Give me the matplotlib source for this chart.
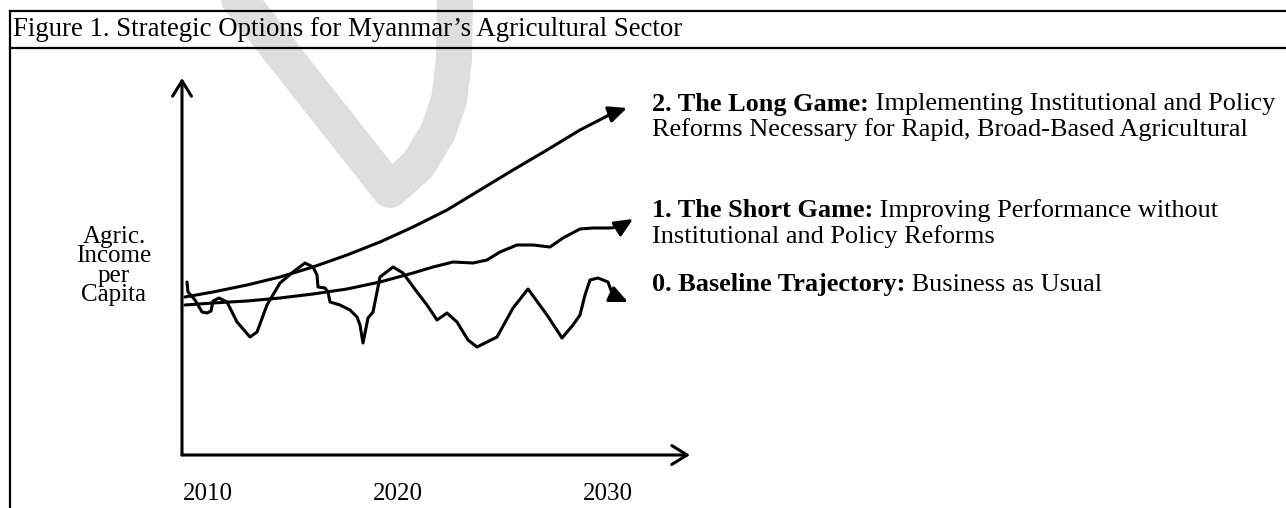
import matplotlib
matplotlib.use("Agg")
import matplotlib.pyplot as plt
from matplotlib.lines import Line2D

plt.rcParams['font.family'] = ['Liberation Serif', 'DejaVu Serif']

# figure size in pixels
W, H = 1286, 508

# --- data (year, income index) ---
long_x = [2008.85, 2010.25, 2011.95, 2013.6, 2015.25, 2016.95, 2018.6, 2020.25,
          2021.95, 2023.6, 2025.25, 2026.95, 2028.6, 2030.25, 2030.95]
long_y = [15.8, 16.3, 17.0, 17.8, 18.8, 20.0, 21.3, 22.8,
          24.5, 26.5, 28.5, 30.5, 32.5, 34.2, 34.7]

short_x = [2008.85, 2010.25, 2011.95, 2013.6, 2015.25, 2016.95, 2018.6, 2020.25,
           2021.25, 2022.25, 2023.25, 2023.95, 2024.6, 2025.45, 2026.25, 2027.1,
           2027.75, 2028.6, 2029.25, 2030.1, 2030.6, 2031.25]
short_y = [15.0, 15.2, 15.4, 15.7, 16.1, 16.6, 17.3, 18.2,
           18.8, 19.3, 19.2, 19.5, 20.3, 21.0, 21.0, 20.8,
           21.7, 22.6, 22.7, 22.7, 22.8, 23.6]

base_x = [2008.95, 2009.0, 2009.35, 2009.7, 2009.95, 2010.15, 2010.25, 2010.55,
          2010.95, 2011.45, 2012.1, 2012.45, 2012.95, 2013.6, 2014.25, 2014.85,
          2015.25, 2015.45, 2015.5, 2015.85, 2016.0, 2016.1, 2016.6, 2017.1,
          2017.45, 2017.6, 2017.75, 2018.0, 2018.25, 2018.6, 2019.25, 2019.75,
          2020.45, 2020.95, 2021.45, 2021.95, 2022.45, 2023.0, 2023.45, 2024.45,
          2025.25, 2026.0, 2026.95, 2027.7, 2028.25, 2028.6, 2028.85, 2029.1,
          2029.5, 2030.0, 2030.2, 2030.45, 2031.0]
base_y = [17.3, 16.3, 15.5, 14.3, 14.2, 14.4, 15.4, 15.7,
          15.3, 13.3, 11.8, 12.3, 15.0, 17.2, 18.3, 19.2,
          18.8, 18.0, 16.8, 16.7, 16.3, 15.3, 15.0, 14.5,
          13.8, 13.0, 11.2, 13.7, 14.3, 17.8, 18.8, 18.2,
          16.3, 15.0, 13.5, 14.2, 13.3, 11.5, 10.8, 11.8,
          14.7, 16.6, 14.0, 11.7, 13.0, 14.0, 16.0, 17.5,
          17.7, 17.3, 16.2, 15.8, 15.3]

tick_pos = [2010, 2019.5, 2030]
tick_labels = ['2010', '2020', '2030']

title = 'Figure 1. Strategic Options for Myanmar\u2019s Agricultural Sector'
ylabel = 'Agric.\nIncome\nper\nCapita'
notes = [
    ('2. The Long Game:', ' Implementing Institutional and Policy',
     'Reforms Necessary for Rapid, Broad-Based Agricultural'),
    ('1. The Short Game:', ' Improving Performance without',
     'Institutional and Policy Reforms'),
    ('0. Baseline Trajectory:', ' Business as Usual', None),
]
note_y = [104, 211, 285]   # pixel rows of first lines

FS = 18.9
LW = 2.2

fig = plt.figure(figsize=(W / 100, H / 100), dpi=100)
fig.patch.set_facecolor('white')

def px(x, y):
    return x / W, 1 - y / H

# faint "draft" watermark stroke behind everything
wm_x = [232, 390, 418, 438, 449, 454, 455]
wm_y = [-10, 190, 165, 132, 100, 60, -10]
fig.add_artist(Line2D([v / W for v in wm_x], [1 - v / H for v in wm_y],
                      transform=fig.transFigure, color='#dedede', lw=26,
                      solid_capstyle='round', solid_joinstyle='round', zorder=0))

# frame lines
for xs, ys in [([10, W], [11, 11]), ([10, W], [48, 48]), ([10, 10], [11, H])]:
    fig.add_artist(Line2D([v / W for v in xs], [1 - v / H for v in ys],
                          transform=fig.transFigure, color='black', lw=1.6))

fig.text(*px(13, 30), title, fontsize=19.3, va='center', ha='left')

# axes box: y axis at x=182, x axis at y=455, arrow tips at (182,78) and (690,455)
x0, x1, y0, y1 = 182, 690, 455, 78
ax = fig.add_axes([x0 / W, 1 - y0 / H, (x1 - x0) / W, (y0 - y1) / H])
ax.set_xlim(2008.7, 2034.1)
ax.set_ylim(0, 37.7)
ax.patch.set_visible(False)
for s in ax.spines.values():
    s.set_visible(False)
ax.set_yticks([])
ax.set_xticks(tick_pos, labels=tick_labels)
ax.tick_params(axis='x', length=0, pad=20, labelsize=18)

axis_arrow = dict(arrowstyle='->,head_length=1.1,head_width=0.68', color='black',
                  lw=LW, shrinkA=0, shrinkB=0, mutation_scale=10)
ax.annotate('', xy=(0, 1), xytext=(0, 0), xycoords='axes fraction', arrowprops=axis_arrow)
ax.annotate('', xy=(1, 0), xytext=(0, 0), xycoords='axes fraction', arrowprops=axis_arrow)

head = dict(arrowstyle='-|>,head_length=1.1,head_width=0.5', color='black',
            lw=LW, shrinkA=0, shrinkB=0, mutation_scale=10)
for xs, ys in [(long_x, long_y), (short_x, short_y), (base_x, base_y)]:
    ax.plot(xs[:-1], ys[:-1], color='black', lw=LW,
            solid_joinstyle='round', solid_capstyle='round')
    ax.annotate('', xy=(xs[-1], ys[-1]), xytext=(xs[-2], ys[-2]), arrowprops=head)

fig.text(*px(114, 266), ylabel, fontsize=18, ha='center', va='center',
         multialignment='center', linespacing=0.85)

renderer = fig.canvas.get_renderer()
for (bold, rest, line2), y in zip(notes, note_y):
    t = fig.text(*px(652, y), bold, fontsize=FS, fontweight='bold', va='center')
    bb = t.get_window_extent(renderer)
    fig.text(bb.x1 / W, 1 - y / H, rest, fontsize=FS, va='center')
    if line2:
        fig.text(*px(652, y + 26), line2, fontsize=FS, va='center')

fig.savefig('out.png', dpi=100)
